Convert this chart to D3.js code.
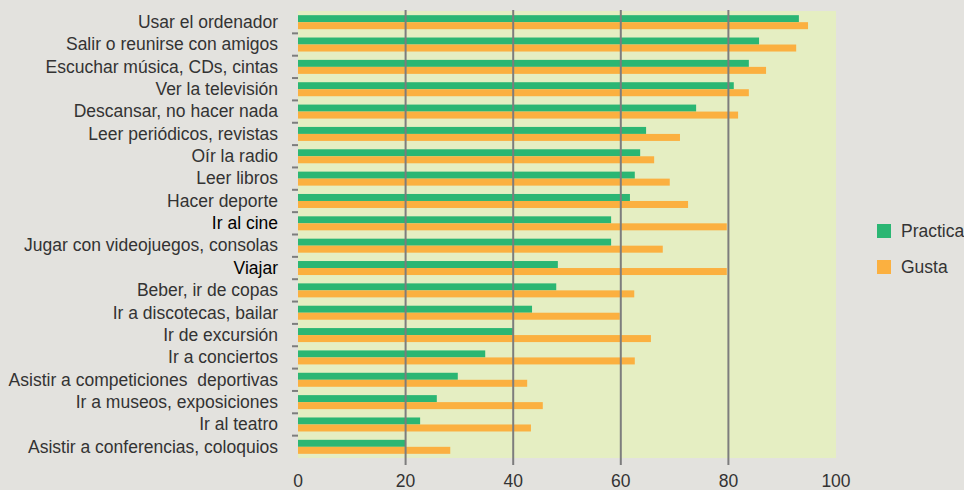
<!DOCTYPE html>
<html>
<head>
<meta charset="utf-8">
<script src="https://cdn.jsdelivr.net/npm/d3@7"></script>
<style>
  html, body { margin: 0; padding: 0; background: #e3e2de; }
  svg { display: block; }
  text { font-family: "Liberation Sans", Arial, sans-serif; }
</style>
</head>
<body>
<svg id="chart" width="964" height="490"></svg>
<script>
const categories = [
  "Usar el ordenador",
  "Salir o reunirse con amigos",
  "Escuchar música, CDs, cintas",
  "Ver la televisión",
  "Descansar, no hacer nada",
  "Leer periódicos, revistas",
  "Oír la radio",
  "Leer libros",
  "Hacer deporte",
  "Ir al cine",
  "Jugar con videojuegos, consolas",
  "Viajar",
  "Beber, ir de copas",
  "Ir a discotecas, bailar",
  "Ir de excursión",
  "Ir a conciertos",
  "Asistir a competiciones  deportivas",
  "Ir a museos, exposiciones",
  "Ir al teatro",
  "Asistir a conferencias, coloquios"
];
const practica = [93.1, 85.7, 83.8, 81.0, 74.0, 64.7, 63.6, 62.6, 61.7, 58.2, 58.2, 48.3, 48.0, 43.5, 40.0, 34.8, 29.7, 25.8, 22.7, 19.9];
const gusta    = [94.8, 92.6, 87.0, 83.8, 81.8, 71.0, 66.2, 69.1, 72.5, 79.7, 67.8, 79.7, 62.5, 59.8, 65.6, 62.6, 42.6, 45.5, 43.3, 28.3];
const seriesNames = ["Practica", "Gusta"];
const xTicks = [0, 20, 40, 60, 80, 100];

(function () {
const colors = ["#2bb673", "#fbb040"];
const svg = d3.select("#chart");
const mLeft = 298, mRight = 836, mTop = 11, mBottom = 458;
const fs = 17.5;

const x = d3.scaleLinear().domain([0, 100]).range([mLeft, mRight]);
const y = d3.scaleBand().domain(d3.range(categories.length)).range([mTop, mBottom]).padding(0);

// plot background
svg.append("rect").attr("x", mLeft).attr("y", mTop)
  .attr("width", mRight - mLeft).attr("height", mBottom - mTop)
  .attr("fill", "#e5eec2");

// bars
const barH = 7;
const series = [practica, gusta];
series.forEach((vals, si) => {
  svg.append("g").selectAll("rect").data(vals).join("rect")
    .attr("x", x(0))
    .attr("y", (d, i) => y(i) + y.bandwidth() / 2 - barH + si * barH)
    .attr("width", d => x(d) - x(0))
    .attr("height", barH)
    .attr("fill", colors[si]);
});

// gridlines
svg.append("g").selectAll("line").data(xTicks.filter(t => t > 0 && t < 100)).join("line")
  .attr("x1", d => x(d)).attr("x2", d => x(d))
  .attr("y1", mTop - 1).attr("y2", 465)
  .attr("stroke", "#7d7d7d").attr("stroke-width", 2);

// x tick labels
svg.append("g").selectAll("text").data(xTicks).join("text")
  .attr("x", d => x(d)).attr("y", 487)
  .attr("text-anchor", "middle")
  .attr("font-size", fs)
  .attr("fill", "#333")
  .text(d => d);

// y tick marks at category boundaries
svg.append("g").selectAll("line").data(d3.range(1, categories.length)).join("line")
  .attr("x1", mLeft - 6).attr("x2", mLeft)
  .attr("y1", d => y(d)).attr("y2", d => y(d))
  .attr("stroke", "#7d7d7d").attr("stroke-width", 2);

// category labels
const dark = new Set(["Ir al cine", "Viajar"]);
svg.append("g").selectAll("text").data(categories).join("text")
  .attr("x", 278)
  .attr("y", (d, i) => y(i) + y.bandwidth() / 2)
  .attr("dy", "0.33em")
  .attr("text-anchor", "end")
  .attr("font-size", fs)
  .attr("fill", d => dark.has(d) ? "#000" : "#333")
  .style("white-space", "pre")
  .text(d => d);

// legend
const lg = svg.append("g");
seriesNames.forEach((name, i) => {
  lg.append("rect").attr("x", 877).attr("y", 224 + i * 36)
    .attr("width", 14).attr("height", 14).attr("fill", colors[i]);
  lg.append("text").attr("x", 901).attr("y", 231 + i * 36).attr("dy", "0.35em")
    .attr("font-size", fs).attr("fill", "#333").text(name);
});
})();
</script>
</body>
</html>
